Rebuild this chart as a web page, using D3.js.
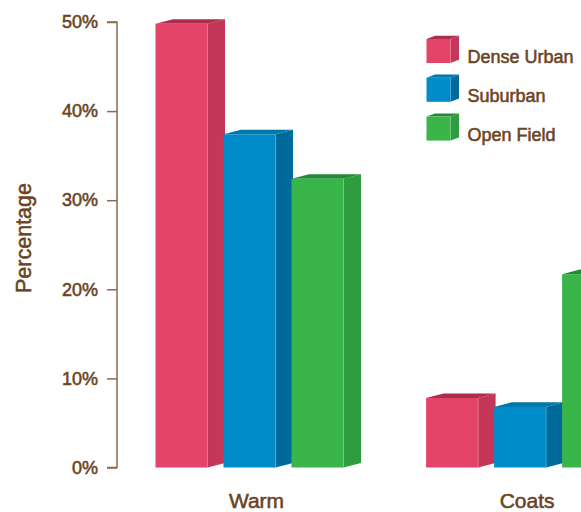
<!DOCTYPE html>
<html>
<head>
<meta charset="utf-8">
<script src="https://cdn.jsdelivr.net/npm/d3@7"></script>
<style>
  html, body { margin: 0; padding: 0; background: #fff; }
  svg { display: block; }
  text { font-family: "Liberation Sans", Arial, Helvetica, sans-serif; }
</style>
</head>
<body>
<svg id="chart" width="581" height="512"></svg>
<script>
const categories = ["Warm", "Coats"];
const seriesNames = ["Dense Urban", "Suburban", "Open Field"];
const denseUrban = [49.8, 7.8];
const suburban = [37.4, 6.8];
const openField = [32.4, 21.7];
const yTicks = [0, 10, 20, 30, 40, 50];
const yLabel = "Percentage";

const seriesValues = [denseUrban, suburban, openField];
const colors = [
  { front: "#e4436a", side: "#c43759", top: "#ab2e4c", edge: "#f07d97" },
  { front: "#008bc9", side: "#006b9b", top: "#0077ab", edge: "#4db0dc" },
  { front: "#3ab54a", side: "#2f9d3f", top: "#238a35", edge: "#76cf82" }
];
const textColor = "#6b4423";
const axisColor = "#8c6a4c";

const svg = d3.select("#chart");

const y = d3.scaleLinear().domain([0, 50]).range([467.5, 22]);

const x0 = d3.scaleBand().domain(categories)
  .range([155.5, 155.5 + 270.6 + 188]).paddingInner((270.6 - 188) / 270.6).paddingOuter(0);
const x1 = d3.scaleBand().domain(seriesNames)
  .range([0, x0.bandwidth()]).paddingInner(16 / 68).paddingOuter(0);

const dx = 17.5, dy = -4.6;

function styleText(sel, size) {
  sel.attr("fill", textColor).attr("font-size", size).attr("font-weight", 400)
    .attr("stroke", textColor).attr("stroke-width", 0.55)
    .attr("font-family", "Liberation Sans, Arial, sans-serif");
  return sel;
}

// Y axis
const axisG = svg.append("g").attr("transform", "translate(117,0)");
axisG.call(d3.axisLeft(y).tickValues(yTicks).tickSize(10).tickPadding(9).tickFormat(d => d + "%"));
axisG.select(".domain").attr("stroke", axisColor).attr("stroke-width", 1.5)
  .attr("d", `M-10,${y(50)}H0V${y(0)}H-10`);
axisG.selectAll(".tick line").attr("stroke", axisColor).attr("stroke-width", 1.5);
styleText(axisG.selectAll(".tick text"), 18);

// Y label
styleText(svg.append("text")
  .attr("transform", `translate(31,${238}) rotate(-90)`)
  .attr("text-anchor", "middle"), 21.5)
  .text(yLabel);

// Bars
function drawBox(g, xl, w, yt, yb, c, ddx, ddy) {
  const xr = xl + w;
  g.append("path").attr("fill", c.side)
    .attr("d", `M${xr},${yt}L${xr + ddx},${yt + ddy}L${xr + ddx},${yb + ddy}L${xr},${yb}Z`);
  g.append("path").attr("fill", c.top)
    .attr("d", `M${xl},${yt}L${xl + ddx},${yt + ddy}L${xr + ddx},${yt + ddy}L${xr},${yt}Z`);
  g.append("rect").attr("x", xl).attr("y", yt).attr("width", w).attr("height", yb - yt).attr("fill", c.front);
  g.append("line").attr("x1", xr).attr("x2", xr).attr("y1", yt).attr("y2", yb)
    .attr("stroke", c.edge).attr("stroke-width", 0.8).attr("opacity", 0.8);
}

categories.forEach((cat, ci) => {
  const g = svg.append("g").attr("transform", `translate(${x0(cat)},0)`);
  seriesNames.forEach((s, si) => {
    const v = seriesValues[si][ci];
    drawBox(g, x1(s), x1.bandwidth(), y(v), y(0), colors[si], dx, dy);
  });
  styleText(svg.append("text")
    .attr("x", x0(cat) + x0.bandwidth() / 2 + 7)
    .attr("y", 507.5)
    .attr("text-anchor", "middle"), 21)
    .text(cat);
});

// Legend
const legend = svg.append("g").attr("transform", "translate(426.5,39)");
seriesNames.forEach((s, i) => {
  const g = legend.append("g").attr("transform", `translate(0,${i * 38.8})`);
  drawBox(g, 0, 24, 0, 24, colors[i], 8.5, -3.2);
  styleText(g.append("text").attr("x", 41).attr("y", 24.3), 18)
    .text(s);
});
</script>
</body>
</html>
